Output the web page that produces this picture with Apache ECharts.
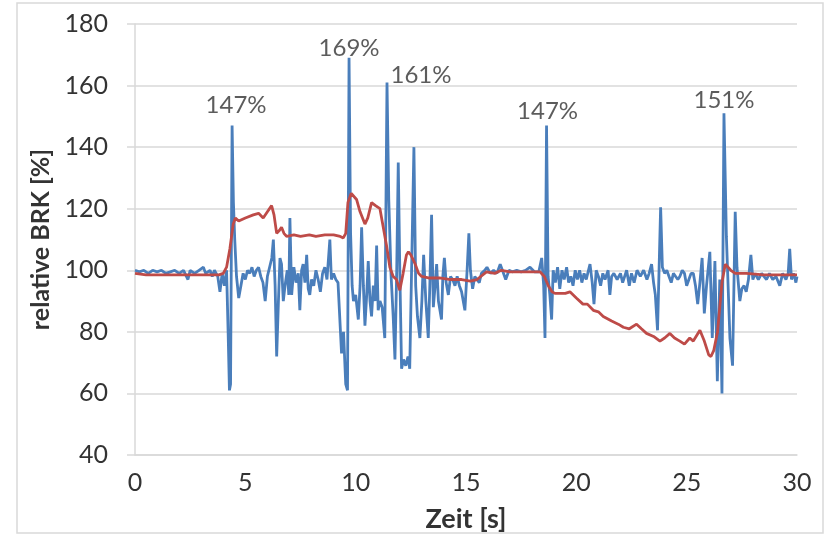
<!DOCTYPE html>
<html>
<head>
<meta charset="utf-8">
<script src="https://cdn.jsdelivr.net/npm/echarts@6/dist/echarts.min.js"></script>
<style>html,body{margin:0;padding:0;background:#fff}#c{width:829px;height:543px}</style>
</head>
<body>
<div id="c"></div>
<script>
// Blue series: relative BRK (raw)
var blueTime = [0,0.2,0.4,0.6,0.8,1.0,1.2,1.4,1.6,1.8,2.0,2.2,2.4,2.5,2.7,2.9,3.1,3.2,3.4,3.5,3.6,3.75,3.85,3.95,4.05,4.15,4.22,4.28,4.33,4.40,4.46,4.52,4.6,4.7,4.8,4.9,5.0,5.1,5.2,5.3,5.4,5.5,5.6,5.7,5.8,5.9,6.0,6.1,6.2,6.27,6.35,6.42,6.5,6.57,6.64,6.72,6.8,6.9,6.97,7.02,7.1,7.2,7.3,7.4,7.47,7.55,7.62,7.7,7.78,7.85,7.92,8.0,8.1,8.2,8.3,8.4,8.5,8.6,8.7,8.83,8.9,9.0,9.1,9.2,9.36,9.45,9.55,9.63,9.70,9.77,9.84,9.9,10.0,10.12,10.2,10.27,10.35,10.42,10.5,10.57,10.65,10.72,10.8,10.88,10.95,11.02,11.1,11.2,11.32,11.42,11.5,11.6,11.7,11.78,11.86,11.93,12.0,12.08,12.17,12.27,12.37,12.45,12.53,12.64,12.72,12.8,12.91,13.0,13.08,13.18,13.29,13.36,13.44,13.52,13.6,13.67,13.75,13.89,13.95,14.02,14.1,14.2,14.3,14.4,14.5,14.6,14.7,14.8,14.95,15.05,15.13,15.2,15.3,15.4,15.5,15.6,15.7,15.85,15.95,16.1,16.25,16.4,16.55,16.65,16.8,16.95,17.1,17.3,17.5,17.7,17.9,18.1,18.3,18.43,18.52,18.58,18.65,18.72,18.8,18.88,18.95,19.05,19.15,19.25,19.35,19.45,19.56,19.65,19.75,19.85,19.95,20.05,20.15,20.25,20.35,20.45,20.55,20.62,20.72,20.8,20.9,21.0,21.1,21.2,21.3,21.44,21.52,21.6,21.7,21.85,22.0,22.1,22.28,22.4,22.5,22.62,22.75,22.9,23.05,23.2,23.3,23.41,23.5,23.58,23.68,23.82,23.9,24.0,24.1,24.2,24.3,24.4,24.5,24.6,24.69,24.8,24.9,25.0,25.1,25.2,25.3,25.4,25.5,25.6,25.7,25.8,25.9,26.05,26.16,26.28,26.39,26.5,26.6,26.69,26.8,26.96,27.08,27.2,27.28,27.41,27.5,27.6,27.7,27.8,27.91,28.0,28.1,28.25,28.4,28.5,28.62,28.75,28.9,29.05,29.22,29.35,29.5,29.6,29.67,29.75,29.85,29.95,30.0];
var blueValue = [100,99.5,100,99,100,99.5,100,99,99.5,100,99,100,97,100,99,100,101,99,100,98,100,98,93,99,95,100,80,61,63,147,122,110,98,91,95,99,97,100,99,101,98,100,101,98,96,90,98,101,104,110,95,72,90,104,102,90,95,100,92,117,92,101,96,99,87,100,102,96,105,94,92,97,95,100,97,93,99,101,97,110,97,99,97,96,73,80,63,61,169,112,95,90,92,84,95,114,95,82,92,103,90,85,95,90,108,87,90,88,78,161,123,99,85,71,100,135,100,68,71,69,72,68,68,140,95,85,78,90,105,90,78,95,118,88,95,102,90,84,98,104,96,92,98,97,95,98,95,93,87,100,112,100,94,98,97,96,99,100,101,99,100,99,102,100,97,100,99.5,100,99.5,100,101,99.5,99.5,104,95,78,147,98,92,84,100,96,101,94,100,97,101,96,98,95,100,97,100,96,99,97,100,102,96,89,100,98,95,99,97,100,92,98,99,97,99,96,100,95,99,96,100,98,100,97,99,102,96,92,80.5,120.5,101,99,100,98,96,99,98,97,98,100,99,95,97,99,99,95,89,96,104,86,95,106,78,103,64,97,60,151,111,78,69,119,101,90,94,95,93,97,105,97,99,97,99,98,97,99,97,98,95,99,97,99,107,97,99,96,98];
// Red series: relative BRK (smoothed)
var redTime = [0,0.5,1,2,3,3.8,4.0,4.15,4.3,4.45,4.55,4.7,5.0,5.36,5.6,5.81,6.0,6.19,6.3,6.42,6.55,6.64,6.75,6.87,7.2,7.5,7.9,8.2,8.6,9.0,9.3,9.44,9.55,9.65,9.8,10.04,10.2,10.42,10.55,10.72,10.9,11.1,11.25,11.4,11.55,11.7,11.85,12.0,12.15,12.3,12.39,12.5,12.7,12.85,12.99,13.3,13.8,14.3,14.8,15.2,15.5,15.93,16.3,16.6,17.0,17.5,18.0,18.35,18.55,18.73,18.9,19.03,19.5,19.71,20.0,20.3,20.5,20.77,21.0,21.22,21.6,21.9,22.13,22.4,22.73,22.95,23.18,23.5,23.79,24.0,24.24,24.45,24.69,24.9,25.14,25.3,25.6,25.8,26.0,26.1,26.23,26.4,26.5,26.6,26.75,27.0,27.2,27.7,28.5,29.3,30.0];
var redValue = [99,98.5,98.5,98.5,98.5,98.5,99,101,107,115,117,116,117,118,118.5,117,119,121,118,112,113,114,112,111,111.5,111,111.5,111,111.5,111.5,111,110.5,112,122,125,123,119,115,117,122,121,120,114,108,101,98,97,93.5,99,105,106,105,102,99,98,97.5,97.5,97,97,96.5,97,99.5,99,100,99.5,99.5,99.5,99.5,98,95,93,92.5,92.5,93,91,89,89,87,86.5,85,83.5,82.5,81.5,81,82.5,81,79.5,78.5,77,78,79.5,78,77,76,78,77,80.5,77,72.5,72,74,80,88,96,102,100,99,99,98.5,98.5,98.5];
// Peak annotations
var peakTime = [4.40, 9.70, 11.42, 18.65, 26.69];
var peakValue = [147, 169, 161, 147, 151];
var peakOffset = [[4,-20],[0,-10],[34,-7],[1,-14],[0,-13]];

var xTicks = {min:0, max:30, interval:5};
var yTicks = {min:40, max:180, interval:20};

function pairs(t, v){ return t.map(function(x,i){ return [x, v[i]]; }); }

var font = 'Lato';
var txt = '#333333';
var chart = echarts.init(document.getElementById('c'), null, {renderer:'canvas'});
chart.setOption({
  backgroundColor:'#ffffff',
  animation:false,
  textStyle:{fontFamily:font},
  grid:{left:135, right:32, top:24, bottom:88, containLabel:false},
  xAxis:{
    type:'value', min:xTicks.min, max:xTicks.max, interval:xTicks.interval,
    name:'Zeit [s]', nameLocation:'middle', nameGap:51,
    nameTextStyle:{fontFamily:font, fontSize:27, fontWeight:'bold', color:txt},
    axisLine:{show:true, lineStyle:{color:'#d9d9d9', width:1.5}},
    axisTick:{show:false},
    splitLine:{show:false},
    axisLabel:{fontFamily:font, fontSize:25, color:txt, margin:15}
  },
  yAxis:{
    type:'value', min:yTicks.min, max:yTicks.max, interval:yTicks.interval,
    name:'relative BRK [%]', nameLocation:'middle', nameGap:68, nameRotate:90,
    nameTextStyle:{fontFamily:font, fontSize:25, fontWeight:'bold', color:txt},
    axisLine:{show:true, lineStyle:{color:'#d9d9d9', width:1.5}},
    axisTick:{show:true, inside:false, length:8, lineStyle:{color:'#d9d9d9', width:1.5}},
    splitLine:{show:true, lineStyle:{color:'#d9d9d9', width:1.5}},
    axisLabel:{fontFamily:font, fontSize:25, color:txt, margin:27}
  },
  graphic:[{
    type:'rect', shape:{x:17, y:3, width:806, height:530},
    style:{fill:'none', stroke:'#d9d9d9', lineWidth:1.5}, silent:true, z:-1
  }],
  series:[
    {
      name:'blue', type:'line', data:pairs(blueTime, blueValue),
      showSymbol:false, symbol:'none',
      lineStyle:{color:'#4a7ebb', width:2.8}, itemStyle:{color:'#4a7ebb'},
      z:2
    },
    {
      name:'red', type:'line', data:pairs(redTime, redValue),
      showSymbol:false, symbol:'none',
      lineStyle:{color:'#be4b48', width:2.8}, itemStyle:{color:'#be4b48'},
      z:3
    },
    {
      name:'peaks', type:'scatter', symbolSize:0, z:4, silent:true,
      data:peakTime.map(function(t,i){
        return {value:[t, peakValue[i]], label:{offset:peakOffset[i]}};
      }),
      label:{show:true, position:'inside', fontFamily:font, fontSize:24, color:txt,
        formatter:function(p){ return p.value[1] + '%'; }}
    }
  ]
});
</script>
</body>
</html>
